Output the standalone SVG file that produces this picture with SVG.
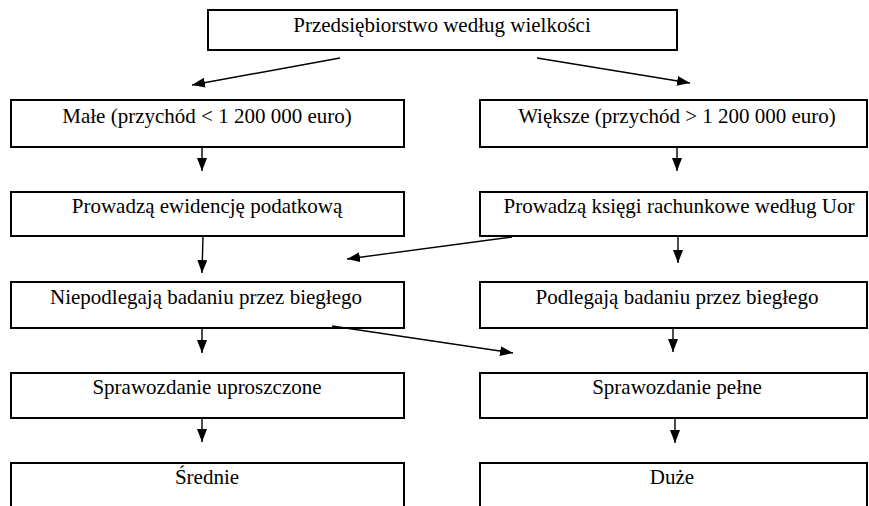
<svg xmlns="http://www.w3.org/2000/svg" width="869" height="506" viewBox="0 0 869 506">
<defs>
<style>
.box{fill:#fff;stroke:#000;stroke-width:2}
.t{font-family:'Liberation Serif','Times New Roman','DejaVu Serif',serif;font-size:21px;fill:#000;text-anchor:middle}
.c{stroke:#000;stroke-width:1.4;fill:none;marker-end:url(#ah)}
</style>
<marker id="ah" viewBox="0 0 13 10" refX="13" refY="5" markerWidth="13" markerHeight="10" markerUnits="userSpaceOnUse" orient="auto">
<path d="M0,0 L13,5 L0,10 z" fill="#000"/>
</marker>
</defs>
<rect width="869" height="506" fill="#fff"/>
<g font-family="Liberation Serif, Times New Roman, serif">
<g id="n-top"><rect class="box" x="208" y="10" width="469" height="40"/><text class="t" x="442" y="32">Przedsiębiorstwo według wielkości</text></g>
<g id="n-male"><rect class="box" x="11" y="100" width="393" height="47"/><text class="t" x="207" y="123">Małe (przychód &lt; 1 200 000 euro)</text></g>
<g id="n-wieksze"><rect class="box" x="480" y="100" width="387" height="47"/><text class="t" x="677" y="123">Większe (przychód &gt; 1 200 000 euro)</text></g>
<g id="n-ewid"><rect class="box" x="11" y="192" width="393" height="44"/><text class="t" x="207" y="213">Prowadzą ewidencję podatkową</text></g>
<g id="n-ksiegi"><rect class="box" x="480" y="192" width="387" height="44"/><text class="t" x="679" y="213">Prowadzą księgi rachunkowe według Uor</text></g>
<g id="n-niepodl"><rect class="box" x="11" y="282" width="393" height="46"/><text class="t" x="206" y="304">Niepodlegają badaniu przez biegłego</text></g>
<g id="n-podl"><rect class="box" x="480" y="282" width="387" height="46"/><text class="t" x="677" y="304">Podlegają badaniu przez biegłego</text></g>
<g id="n-upr"><rect class="box" x="11" y="373" width="393" height="45"/><text class="t" x="207" y="394">Sprawozdanie uproszczone</text></g>
<g id="n-pelne"><rect class="box" x="480" y="373" width="387" height="45"/><text class="t" x="677" y="394">Sprawozdanie pełne</text></g>
<g id="n-srednie"><path class="box" d="M11,515 V463 H404 V515"/><text class="t" x="207" y="484">Średnie</text></g>
<g id="n-duze"><path class="box" d="M480,515 V463 H867 V515"/><text class="t" x="672" y="484">Duże</text></g>
</g>
<g id="connectors">
<line class="c" x1="340" y1="58" x2="192" y2="85"/>
<line class="c" x1="537" y1="58" x2="690" y2="83"/>
<line class="c" x1="202" y1="147" x2="202" y2="171"/>
<line class="c" x1="677" y1="147" x2="677" y2="171"/>
<line class="c" x1="203" y1="236" x2="202" y2="273"/>
<line class="c" x1="678" y1="236" x2="678" y2="263"/>
<line class="c" x1="512" y1="237" x2="347" y2="259"/>
<line class="c" x1="202" y1="328" x2="202" y2="353"/>
<line class="c" x1="673" y1="328" x2="673" y2="352"/>
<line class="c" x1="332" y1="326" x2="513" y2="353"/>
<line class="c" x1="202" y1="418" x2="202" y2="442"/>
<line class="c" x1="675" y1="418" x2="675" y2="443"/>
</g>
</svg>
